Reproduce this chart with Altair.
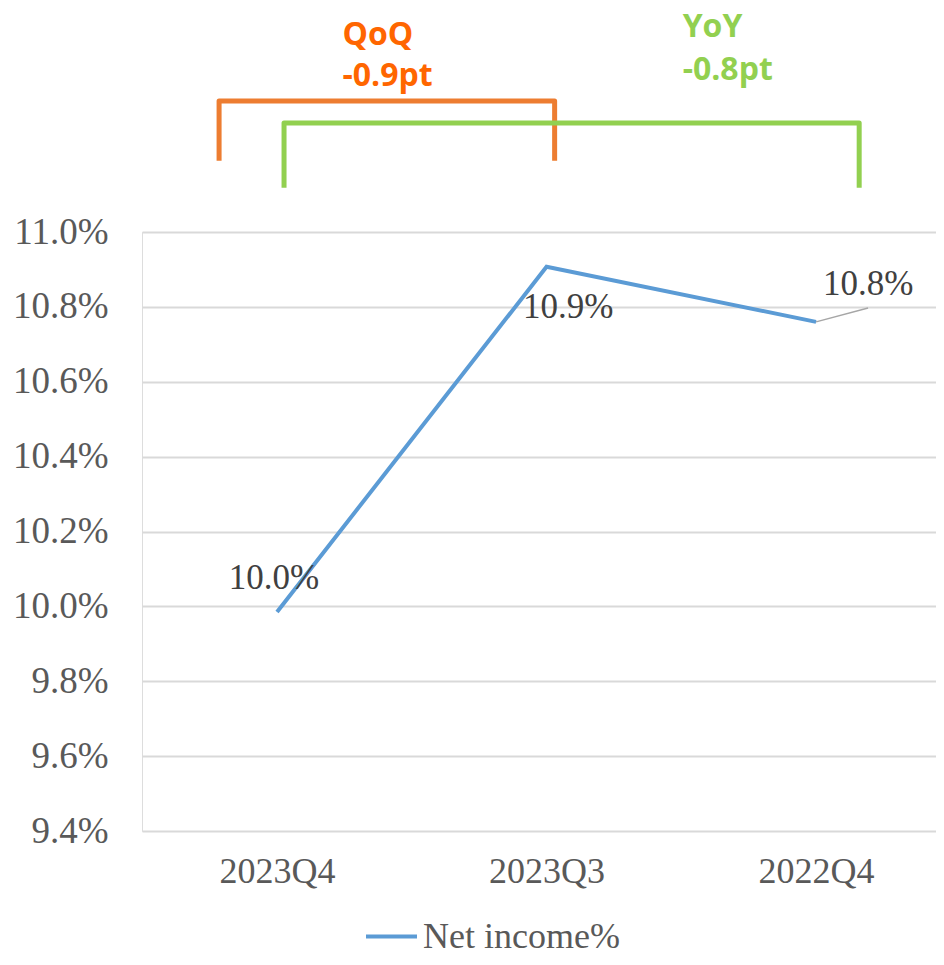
import altair as alt
import pandas as pd

# ---- data ----
categories = ["2023Q4", "2023Q3", "2022Q4"]
values = [9.985, 10.907, 10.760]
series_name = "Net income%"

label_text = ["10.0%", "10.9%", "10.8%"]
label_x = [-0.011, 1.08, 2.193]
label_y = [10.0465, 10.770, 10.832]

# leader line for the last label
leader_x = [2.0, 2.193]
leader_y = [10.760, 10.797]

# comparison brackets
qoq_x = [-0.215, -0.215, 1.03, 1.03]
qoq_y = [11.190, 11.350, 11.350, 11.190]
yoy_x = [0.026, 0.026, 2.160, 2.160]
yoy_y = [11.118, 11.291, 11.291, 11.118]

ann_text = ["QoQ", "-0.9pt", "YoY", "-0.8pt"]
ann_x = [0.243, 0.243, 1.505, 1.505]
ann_y = [11.4995, 11.39, 11.522, 11.405]
ann_group = ["qoq", "qoq", "yoy", "yoy"]

y_ticks = [9.4, 9.6, 9.8, 10.0, 10.2, 10.4, 10.6, 10.8, 11.0]

# ---- tables ----
line_df = pd.DataFrame({"idx": list(range(len(categories))), "cat": categories,
                        "value": values, "series": [series_name] * len(values)})
lab_df = pd.DataFrame({"x": label_x, "y": label_y, "t": label_text})
lead_df = pd.DataFrame({"x": leader_x, "y": leader_y, "o": [0, 1]})
br_df = pd.DataFrame({
    "x": qoq_x + yoy_x, "y": qoq_y + yoy_y,
    "o": list(range(4)) + list(range(4)),
    "g": ["qoq"] * 4 + ["yoy"] * 4,
})
ann_df = pd.DataFrame({"x": ann_x, "y": ann_y, "t": ann_text, "g": ann_group})

SERIF = "Liberation Serif"
GRAY = "#595959"

label_expr = "[" + ",".join("'" + c + "'" for c in categories) + "][datum.value]"

x_scale = alt.Scale(domain=[-0.501, 2.445], nice=False, zero=False)
y_scale = alt.Scale(domain=[9.4, 11.0], nice=False, zero=False)

x_axis = alt.Axis(values=list(range(len(categories))), labelExpr=label_expr,
                  title=None, grid=False, ticks=False, domain=False,
                  labelFont=SERIF, labelFontSize=36, labelColor=GRAY,
                  labelPadding=23)
y_axis = alt.Axis(values=y_ticks, labelExpr="format(datum.value, '.1f') + '%'",
                  title=None, grid=True, gridColor="#D9D9D9", gridWidth=2,
                  ticks=False, domain=False, labelFont=SERIF, labelFontSize=37,
                  labelColor=GRAY, labelPadding=34)

line = alt.Chart(line_df).mark_line(strokeWidth=4, strokeJoin="miter").encode(
    x=alt.X("idx:Q", scale=x_scale, axis=x_axis),
    y=alt.Y("value:Q", scale=y_scale, axis=y_axis),
    color=alt.Color("series:N", scale=alt.Scale(domain=[series_name], range=["#5B9BD5"]),
                    legend=alt.Legend(title=None, orient="none", legendX=222, legendY=677,
                                      symbolType="stroke", symbolStrokeWidth=4,
                                      symbolSize=2600, labelFont=SERIF, labelFontSize=36,
                                      labelColor=GRAY, labelOffset=4, labelLimit=0)),
)

leader = alt.Chart(lead_df).mark_line(color="#A6A6A6", strokeWidth=1.5).encode(
    x=alt.X("x:Q", scale=x_scale), y=alt.Y("y:Q", scale=y_scale), order="o:Q")

labels = alt.Chart(lab_df).mark_text(font=SERIF, fontSize=35, color="#404040",
                                     baseline="alphabetic", align="center").encode(
    x=alt.X("x:Q", scale=x_scale), y=alt.Y("y:Q", scale=y_scale), text="t:N")

brackets = alt.Chart(br_df).mark_line(strokeWidth=5, strokeJoin="round", clip=False).encode(
    x=alt.X("x:Q", scale=x_scale), y=alt.Y("y:Q", scale=y_scale),
    detail="g:N", order="o:Q",
    stroke=alt.Stroke("g:N", scale=alt.Scale(domain=["qoq", "yoy"], range=["#ED7D31", "#92D050"]),
                      legend=None),
)

ann = alt.Chart(ann_df).mark_text(font="Open Sans", fontWeight="bold", fontSize=32,
                                  baseline="alphabetic", align="left", clip=False).encode(
    x=alt.X("x:Q", scale=x_scale), y=alt.Y("y:Q", scale=y_scale), text="t:N",
    color=alt.Color("g:N", scale=alt.Scale(domain=["qoq", "yoy"], range=["#FF6600", "#92D050"]),
                    legend=None),
)

chart = alt.layer(line, leader, labels, brackets, ann).resolve_scale(
    color="independent", stroke="independent"
).properties(
    width=794, height=599,
    autosize=alt.AutoSizeParams(type="none"),
    padding={"left": 134, "top": 224, "right": 0, "bottom": 124},
).configure_view(stroke=None).configure(background="white")

chart.save("out.html", embed_options={"renderer": "svg", "actions": False})
